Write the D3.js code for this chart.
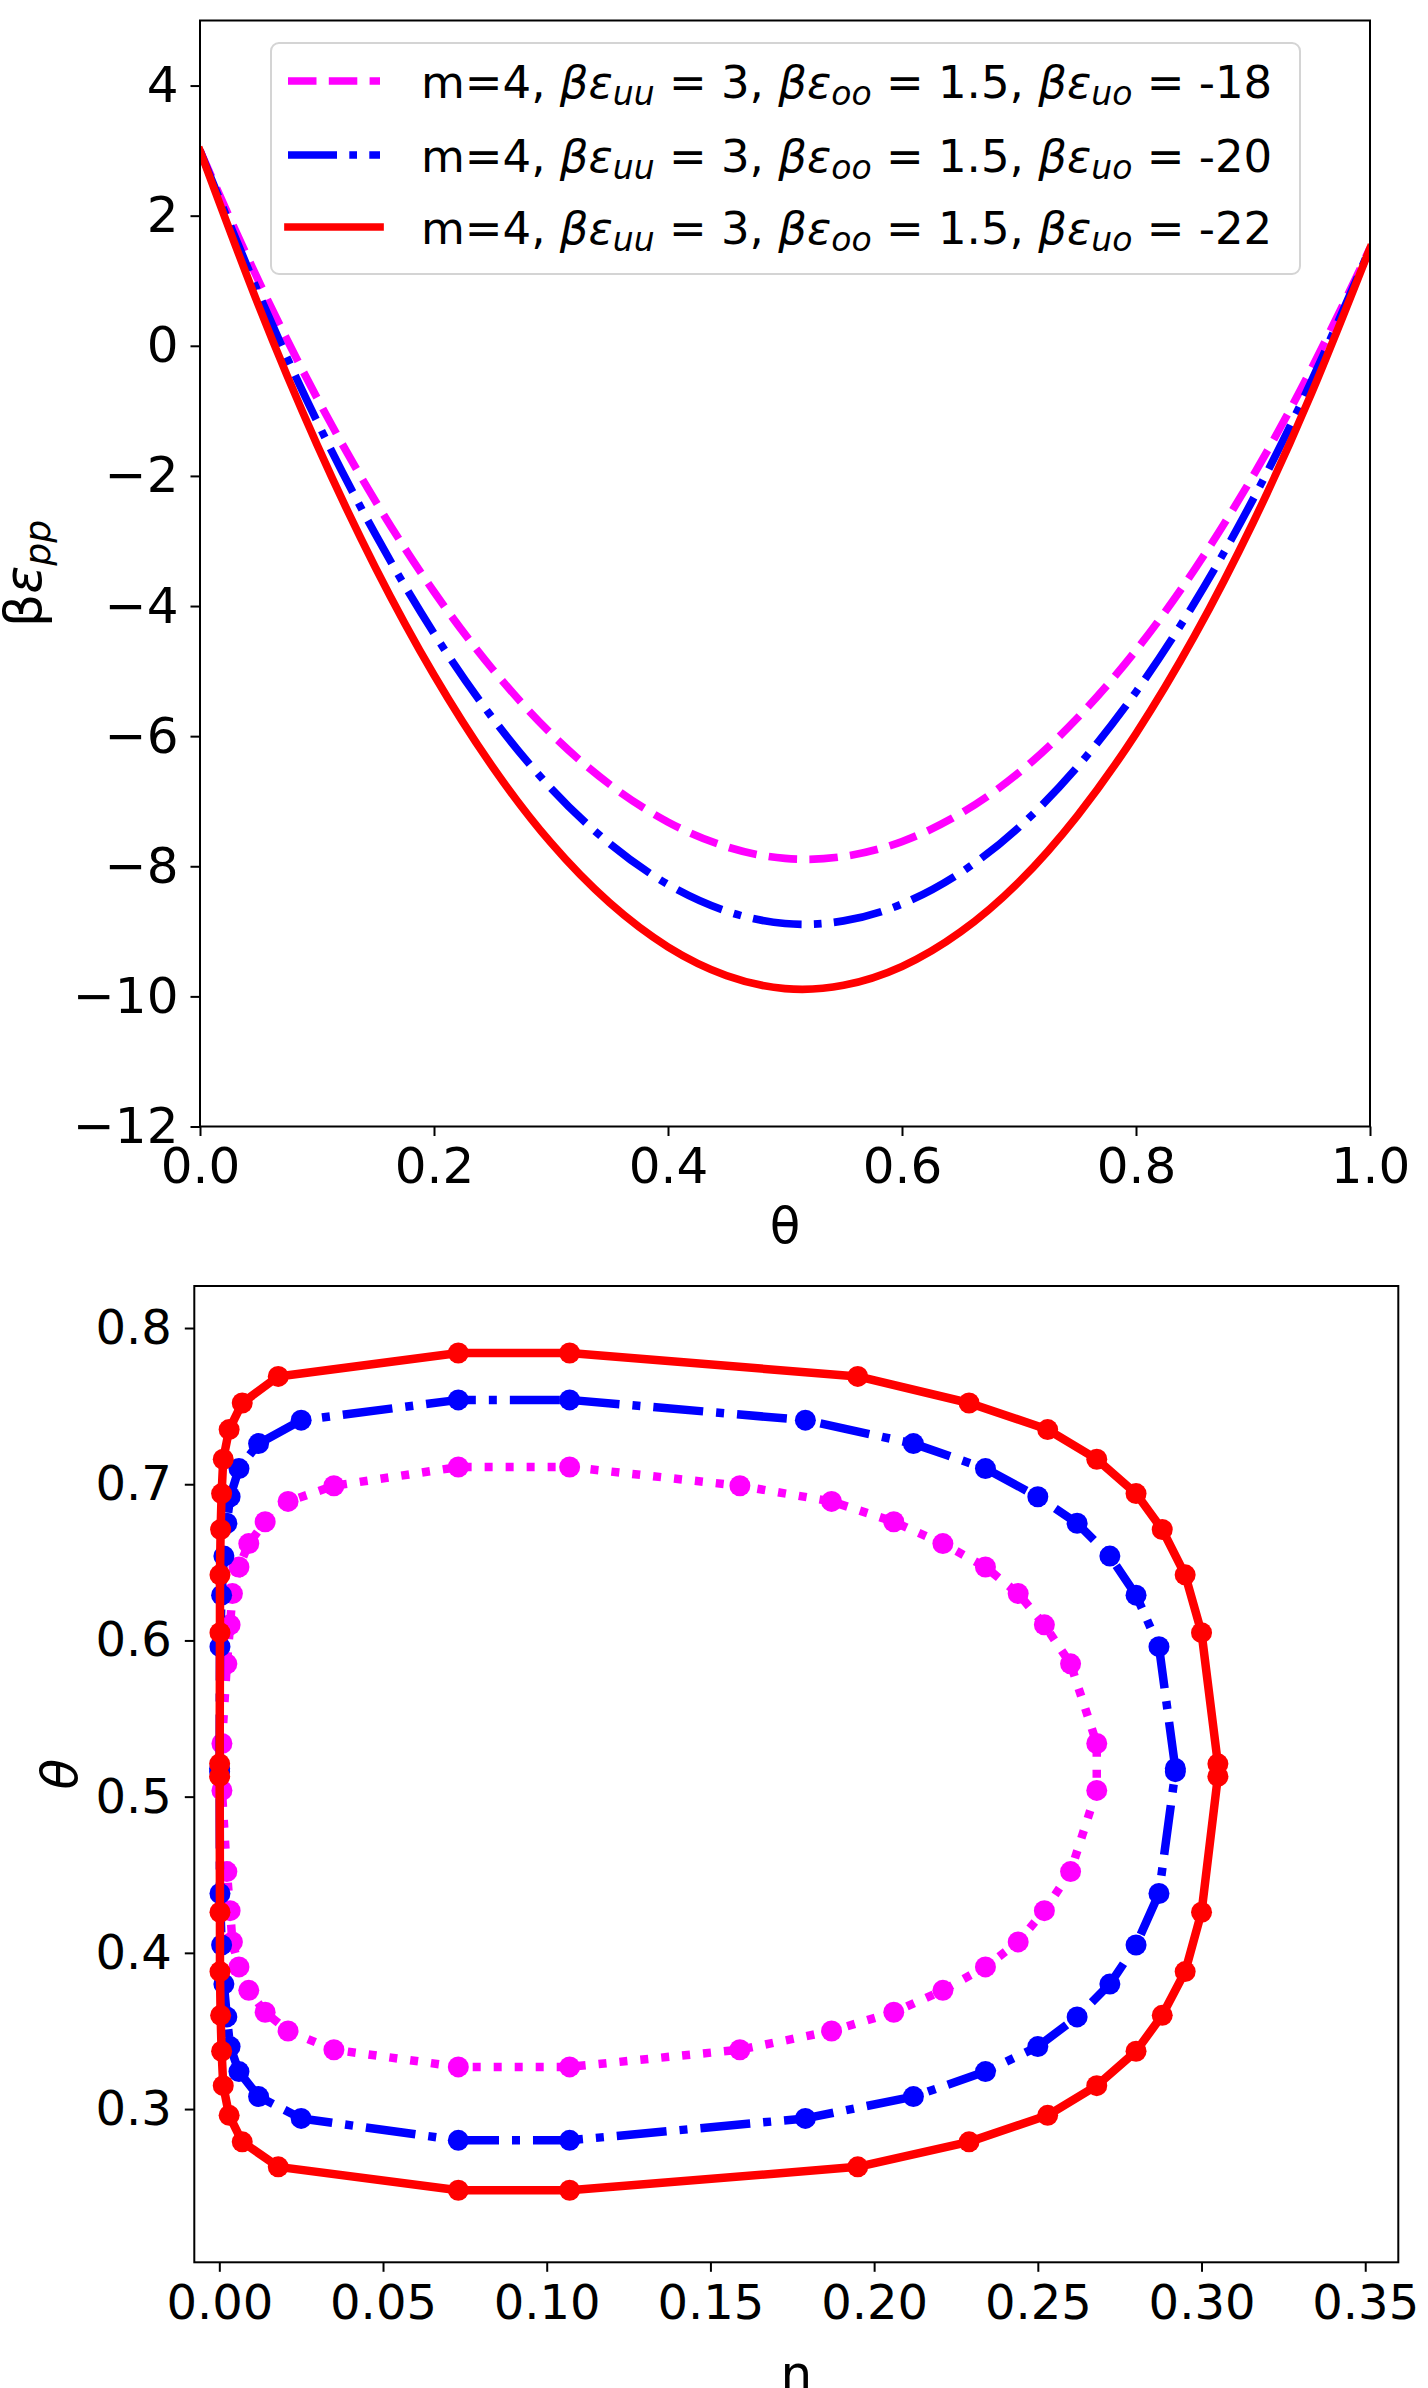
<!DOCTYPE html>
<html>
<head>
<meta charset="utf-8">
<script src="https://cdn.jsdelivr.net/npm/d3@7"></script>
<style>
  body { margin: 0; background: #fff; }
  svg { display: block; font-family: "DejaVu Sans", sans-serif; }
</style>
</head>
<body>
<svg id="fig" width="1428" height="2388"></svg>
<script>
// top panel: beta*eps_pp against theta
var thetaGrid = [0, 0.05, 0.1, 0.15, 0.2, 0.25, 0.3, 0.35, 0.4, 0.45, 0.5,
                 0.55, 0.6, 0.65, 0.7, 0.75, 0.8, 0.85, 0.9, 0.95, 1.0];
var eppUo18 = [3.00, 1.00, -0.80, -2.39, -3.78, -4.97, -5.96, -6.74, -7.32, -7.70, -7.88,
               -7.85, -7.62, -7.19, -6.56, -5.72, -4.68, -3.44, -2.00, -0.35, 1.50];
var eppUo20 = [3.00, 0.81, -1.16, -2.90, -4.42, -5.72, -6.80, -7.65, -8.28, -8.69, -8.88,
               -8.84, -8.58, -8.10, -7.40, -6.47, -5.32, -3.95, -2.36, -0.54, 1.50];
var eppUo22 = [3.00, 0.62, -1.52, -3.41, -5.06, -6.47, -7.64, -8.56, -9.24, -9.68, -9.88,
               -9.83, -9.54, -9.01, -8.24, -7.22, -5.96, -4.46, -2.72, -0.73, 1.50];
var uoValues = ['-18', '-20', '-22'];
var topXTicks = [0, 0.2, 0.4, 0.6, 0.8, 1.0];
var topYTicks = [-12, -10, -8, -6, -4, -2, 0, 2, 4];

// bottom panel: theta against eta (loops), upper/lower theta levels share eta values
var thetaUpper18 = [0.711, 0.699, 0.689, 0.676, 0.662, 0.647, 0.630, 0.610, 0.585, 0.534];
var thetaLower18 = [0.327, 0.338, 0.350, 0.362, 0.376, 0.391, 0.407, 0.427, 0.452, 0.504];
var etaOuter18 = [0.107, 0.159, 0.187, 0.206, 0.221, 0.234, 0.244, 0.252, 0.260, 0.268];
var etaInner18 = [0.073, 0.035, 0.021, 0.014, 0.009, 0.006, 0.004, 0.0033, 0.0023, 0.0008];

var thetaUpper20 = [0.754, 0.741, 0.726, 0.710, 0.692, 0.675, 0.654, 0.629, 0.596, 0.518];
var thetaLower20 = [0.280, 0.294, 0.308, 0.324, 0.340, 0.359, 0.380, 0.405, 0.438, 0.516];
var etaOuter20 = [0.107, 0.179, 0.212, 0.234, 0.250, 0.262, 0.272, 0.280, 0.287, 0.292];
var etaInner20 = [0.073, 0.025, 0.012, 0.006, 0.0033, 0.0023, 0.0014, 0.0007, 0.0002, 0.0001];

var thetaUpper22 = [0.784, 0.769, 0.752, 0.735, 0.716, 0.694, 0.671, 0.642, 0.605, 0.521];
var thetaLower22 = [0.248, 0.263, 0.279, 0.296, 0.315, 0.337, 0.360, 0.388, 0.426, 0.513];
var etaOuter22 = [0.107, 0.195, 0.229, 0.253, 0.268, 0.280, 0.288, 0.295, 0.300, 0.305];
var etaInner22 = [0.073, 0.018, 0.007, 0.003, 0.0012, 0.0007, 0.0004, 0.0002, 0.0002, 0.0001];

var botXTicks = [0, 0.05, 0.1, 0.15, 0.2, 0.25, 0.3, 0.35];
var botYTicks = [0.3, 0.4, 0.5, 0.6, 0.7, 0.8];

var magenta = '#ff00ff', blue = '#0000ff', red = '#ff0000';
var lw = 7.7;

var svg = d3.select('#fig');

function styleAxis(g, size) {
  g.select('.domain').remove();
  g.attr('font-family', null).attr('font-size', null);
  g.selectAll('.tick line').attr('stroke', '#000').attr('stroke-width', 2);
  g.selectAll('.tick text').attr('fill', '#000').style('font-size', size + 'px');
}

// ---------------- top panel ----------------
var A = {left: 200, right: 1370, top: 20.5, bottom: 1126.5};
var x1 = d3.scaleLinear().domain([0, 1]).range([A.left, A.right]);
var y1 = d3.scaleLinear().domain([-12, 5]).range([A.bottom, A.top]);

svg.append('clipPath').attr('id', 'clipA')
  .append('rect').attr('x', A.left).attr('y', A.top)
  .attr('width', A.right - A.left).attr('height', A.bottom - A.top);

var topSeries = [
  {vals: eppUo18, color: magenta, dash: '28.5,12.3', cap: 'butt'},
  {vals: eppUo20, color: blue, dash: '49,12.3,7.7,12.3', cap: 'butt'},
  {vals: eppUo22, color: red, dash: null, cap: 'square'}
];

var line1 = d3.line()
  .x(function(d, i) { return x1(thetaGrid[i]); })
  .y(function(d) { return y1(d); })
  .curve(d3.curveNatural);

svg.append('g').attr('clip-path', 'url(#clipA)')
  .selectAll('path')
  .data(topSeries)
  .enter()
  .append('path')
  .attr('d', function(d) { return line1(d.vals); })
  .attr('fill', 'none')
  .attr('stroke', function(d) { return d.color; })
  .attr('stroke-width', lw)
  .attr('stroke-dasharray', function(d) { return d.dash; })
  .attr('stroke-linecap', function(d) { return d.cap; })
  .attr('stroke-linejoin', 'round');

svg.append('g')
  .attr('transform', 'translate(0,' + A.bottom + ')')
  .call(d3.axisBottom(x1).tickValues(topXTicks).tickFormat(d3.format('.1f'))
        .tickSize(9.5).tickPadding(11))
  .call(styleAxis, 50);

svg.append('g')
  .attr('transform', 'translate(' + A.left + ',0)')
  .call(d3.axisLeft(y1).tickValues(topYTicks).tickSize(9.5).tickPadding(12))
  .call(styleAxis, 50);

svg.append('rect')
  .attr('x', A.left).attr('y', A.top)
  .attr('width', A.right - A.left).attr('height', A.bottom - A.top)
  .attr('fill', 'none').attr('stroke', '#000').attr('stroke-width', 2);

// legend
var legend = svg.append('g');
legend.append('rect')
  .attr('x', 271).attr('y', 43).attr('width', 1029).attr('height', 231)
  .attr('rx', 8).attr('ry', 8)
  .attr('fill', '#fff').attr('fill-opacity', 0.8)
  .attr('stroke', '#d4d4d4').attr('stroke-width', 2);

var rowY = [81, 155, 227];
topSeries.forEach(function(s, i) {
  legend.append('line')
    .attr('x1', 288).attr('x2', 380)
    .attr('y1', rowY[i]).attr('y2', rowY[i])
    .attr('stroke', s.color).attr('stroke-width', lw)
    .attr('stroke-dasharray', s.dash)
    .attr('stroke-linecap', s.cap);

  var t = legend.append('text')
    .attr('x', 421).attr('y', rowY[i] + 17)
    .style('font-size', '45px');
  var parts = [['m=4, '], ['βε', 'it'], ['uu', 'sub'], [' = 3, '],
               ['βε', 'it'], ['oo', 'sub'], [' = 1.5, '],
               ['βε', 'it'], ['uo', 'sub'], [' = ' + uoValues[i]]];
  parts.forEach(function(p) {
    var ts = t.append('tspan').text(p[0]);
    if (p[1] === 'it') ts.style('font-style', 'italic');
    if (p[1] === 'sub') {
      ts.style('font-style', 'italic').style('font-size', '33px').attr('dy', 7);
    } else if (p[0].charAt(0) === ' ') {
      ts.attr('dy', -7);
    }
  });
});

svg.append('text')
  .attr('x', (A.left + A.right) / 2).attr('y', 1243)
  .attr('text-anchor', 'middle')
  .style('font-size', '50px')
  .text('θ');

var ylab1 = svg.append('text')
  .attr('transform', 'translate(41,' + (A.top + A.bottom) / 2 + ') rotate(-90)')
  .attr('text-anchor', 'middle')
  .style('font-size', '52px');
ylab1.append('tspan').text('β');
ylab1.append('tspan').style('font-style', 'italic').text('ε');
ylab1.append('tspan').style('font-style', 'italic').style('font-size', '36px')
  .attr('dy', 9).text('pp');

// ---------------- bottom panel ----------------
var B = {left: 194.3, right: 1398.3, top: 1286, bottom: 2262.3};
var x2 = d3.scaleLinear().domain([-0.00764, 0.3601]).range([B.left, B.right]);
var y2 = d3.scaleLinear().domain([0.2019, 0.8269]).range([B.bottom, B.top]);

function buildLoop(tUp, tLow, eOut, eIn) {
  var pts = [], i;
  for (i = 0; i < tUp.length; i++) pts.push([eOut[i], tUp[i]]);
  for (i = tLow.length - 1; i >= 0; i--) pts.push([eOut[i], tLow[i]]);
  for (i = 0; i < tLow.length; i++) pts.push([eIn[i], tLow[i]]);
  for (i = tUp.length - 1; i >= 0; i--) pts.push([eIn[i], tUp[i]]);
  return pts;
}

var botSeries = [
  {pts: buildLoop(thetaUpper18, thetaLower18, etaOuter18, etaInner18), color: magenta, dash: '8,13', cap: 'butt'},
  {pts: buildLoop(thetaUpper20, thetaLower20, etaOuter20, etaInner20), color: blue, dash: '50,13,8,13', cap: 'butt'},
  {pts: buildLoop(thetaUpper22, thetaLower22, etaOuter22, etaInner22), color: red, dash: null, cap: 'square'}
];

var line2 = d3.line()
  .x(function(d) { return x2(d[0]); })
  .y(function(d) { return y2(d[1]); })
  .curve(d3.curveLinearClosed);

var loops = svg.append('g')
  .selectAll('g')
  .data(botSeries)
  .enter()
  .append('g');

loops.append('path')
  .attr('d', function(d) { return line2(d.pts); })
  .attr('fill', 'none')
  .attr('stroke', function(d) { return d.color; })
  .attr('stroke-width', 8.5)
  .attr('stroke-dasharray', function(d) { return d.dash; })
  .attr('stroke-linecap', function(d) { return d.cap; })
  .attr('stroke-linejoin', 'round');

loops.each(function(s) {
  d3.select(this).selectAll('circle')
    .data(s.pts)
    .enter()
    .append('circle')
    .attr('cx', function(d) { return x2(d[0]); })
    .attr('cy', function(d) { return y2(d[1]); })
    .attr('r', 10.5)
    .attr('fill', s.color);
});

svg.append('g')
  .attr('transform', 'translate(0,' + B.bottom + ')')
  .call(d3.axisBottom(x2).tickValues(botXTicks).tickFormat(d3.format('.2f'))
        .tickSize(9.5).tickPadding(13))
  .call(styleAxis, 48);

svg.append('g')
  .attr('transform', 'translate(' + B.left + ',0)')
  .call(d3.axisLeft(y2).tickValues(botYTicks).tickFormat(d3.format('.1f'))
        .tickSize(9.5).tickPadding(13))
  .call(styleAxis, 48);

svg.append('rect')
  .attr('x', B.left).attr('y', B.top)
  .attr('width', B.right - B.left).attr('height', B.bottom - B.top)
  .attr('fill', 'none').attr('stroke', '#000').attr('stroke-width', 2);

svg.append('text')
  .attr('x', (B.left + B.right) / 2).attr('y', 2391)
  .attr('text-anchor', 'middle')
  .style('font-size', '50px')
  .text('η');

svg.append('text')
  .attr('transform', 'translate(77,' + (B.top + B.bottom) / 2 + ') rotate(-90)')
  .attr('text-anchor', 'middle')
  .style('font-size', '50px')
  .style('font-style', 'italic')
  .text('θ');
</script>
</body>
</html>
